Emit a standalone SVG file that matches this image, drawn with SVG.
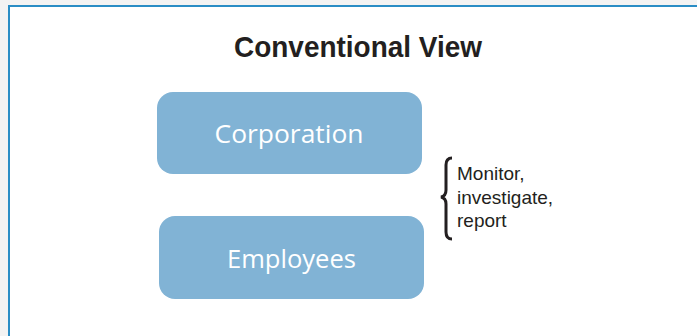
<svg xmlns="http://www.w3.org/2000/svg" width="697" height="336" viewBox="0 0 697 336">
<defs>
<style>
.box{fill:#81b3d5;}
.lbl{font-family:"Open Sans","Liberation Sans",sans-serif;font-size:25px;fill:#ffffff;text-anchor:middle;}
.note{font-family:"Liberation Sans","Open Sans",sans-serif;font-size:19px;fill:#231f20;}
.title{font-family:"Liberation Sans",Arial,sans-serif;font-weight:bold;font-size:30px;fill:#231f20;text-anchor:middle;}
</style>
</defs>
<rect x="0" y="0" width="697" height="336" fill="#f3f3f3"/>
<rect x="8" y="5" width="689" height="331" fill="#ffffff"/>
<path d="M9,336 V6 H697" fill="none" stroke="#2a8dc5" stroke-width="2"/>
<text class="title" x="358" y="57" textLength="248" lengthAdjust="spacingAndGlyphs">Conventional View</text>
<g id="corporation">
<rect class="box" x="157" y="92" width="265" height="82" rx="16" ry="16"/>
<text class="lbl" x="289" y="143" textLength="149" lengthAdjust="spacingAndGlyphs">Corporation</text>
</g>
<g id="employees">
<rect class="box" x="159" y="216" width="265" height="83" rx="16" ry="16"/>
<text class="lbl" x="291.5" y="268" textLength="129" lengthAdjust="spacingAndGlyphs">Employees</text>
</g>
<g id="connectors">
<path d="M452,158 Q446,158 446,165 V190 Q446,196 441,197 Q446,198 446,204 V232 Q446,239 452,239" fill="none" stroke="#231f20" stroke-width="3"/>
</g>
<g id="note">
<text class="note" x="457" y="180">Monitor,</text>
<text class="note" x="457" y="204">investigate,</text>
<text class="note" x="457" y="227">report</text>
</g>
</svg>
